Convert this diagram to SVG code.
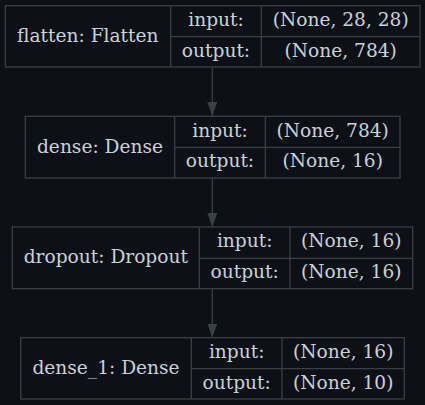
<svg xmlns="http://www.w3.org/2000/svg" width="425" height="405" viewBox="0 0 425 405">
  <style>
    .box { fill: none; stroke: #3b3f46; stroke-width: 1.3; }
    .edge { stroke: #3b3f46; stroke-width: 1.3; fill: none; }
    text { font-family: "DejaVu Serif", "Liberation Serif", serif; font-size: 18.6px; fill: #c9d1d9; text-anchor: middle; }
  </style>
  <defs>
    <marker id="arrow" markerUnits="userSpaceOnUse" markerWidth="14" markerHeight="10" refX="14" refY="5" orient="auto" viewBox="0 0 14 10">
      <polygon points="0,0 14,5 0,10" fill="#3b3f46"/>
    </marker>
  </defs>
  <rect width="425" height="405" fill="#0d1117"/>

  <g id="connectors">
    <line class="edge" x1="212.3" y1="67" x2="212.3" y2="116" marker-end="url(#arrow)"/>
    <line class="edge" x1="212.3" y1="178" x2="212.3" y2="227" marker-end="url(#arrow)"/>
    <line class="edge" x1="212.3" y1="288.7" x2="212.3" y2="337.5" marker-end="url(#arrow)"/>
  </g>

  <g id="flatten">
    <rect class="box" x="5.3" y="5.7" width="414.7" height="61.3"/>
    <path class="box" d="M170.7,5.7V67M261.3,5.7V67M170.7,36.7H420"/>
    <text x="87.8" y="42">flatten: Flatten</text>
    <text x="216" y="26">input:</text>
    <text x="216" y="56.7">output:</text>
    <text x="340.7" y="26">(None, 28, 28)</text>
    <text x="340.7" y="56.7">(None, 784)</text>
  </g>

  <g id="dense">
    <rect class="box" x="25.3" y="116.3" width="374.7" height="61.7"/>
    <path class="box" d="M174.7,116.3V178M265.3,116.3V178M174.7,147.3H400"/>
    <text x="100" y="152.6">dense: Dense</text>
    <text x="220" y="136.6">input:</text>
    <text x="220" y="167.3">output:</text>
    <text x="332.7" y="136.6">(None, 784)</text>
    <text x="332.7" y="167.3">(None, 16)</text>
  </g>

  <g id="dropout">
    <rect class="box" x="12.3" y="227" width="400.4" height="61.7"/>
    <path class="box" d="M199.3,227V288.7M290,227V288.7M199.3,258.3H412.7"/>
    <text x="105.8" y="263.3">dropout: Dropout</text>
    <text x="244.7" y="247.3">input:</text>
    <text x="244.7" y="278">output:</text>
    <text x="351.3" y="247.3">(None, 16)</text>
    <text x="351.3" y="278">(None, 16)</text>
  </g>

  <g id="dense_1">
    <rect class="box" x="20.7" y="337.7" width="383.6" height="61.3"/>
    <path class="box" d="M191.3,337.7V399M282,337.7V399M191.3,368.7H404.3"/>
    <text x="106" y="374">dense_1: Dense</text>
    <text x="236.7" y="358">input:</text>
    <text x="236.7" y="388.7">output:</text>
    <text x="343.2" y="358">(None, 16)</text>
    <text x="343.2" y="388.7">(None, 10)</text>
  </g>
</svg>
